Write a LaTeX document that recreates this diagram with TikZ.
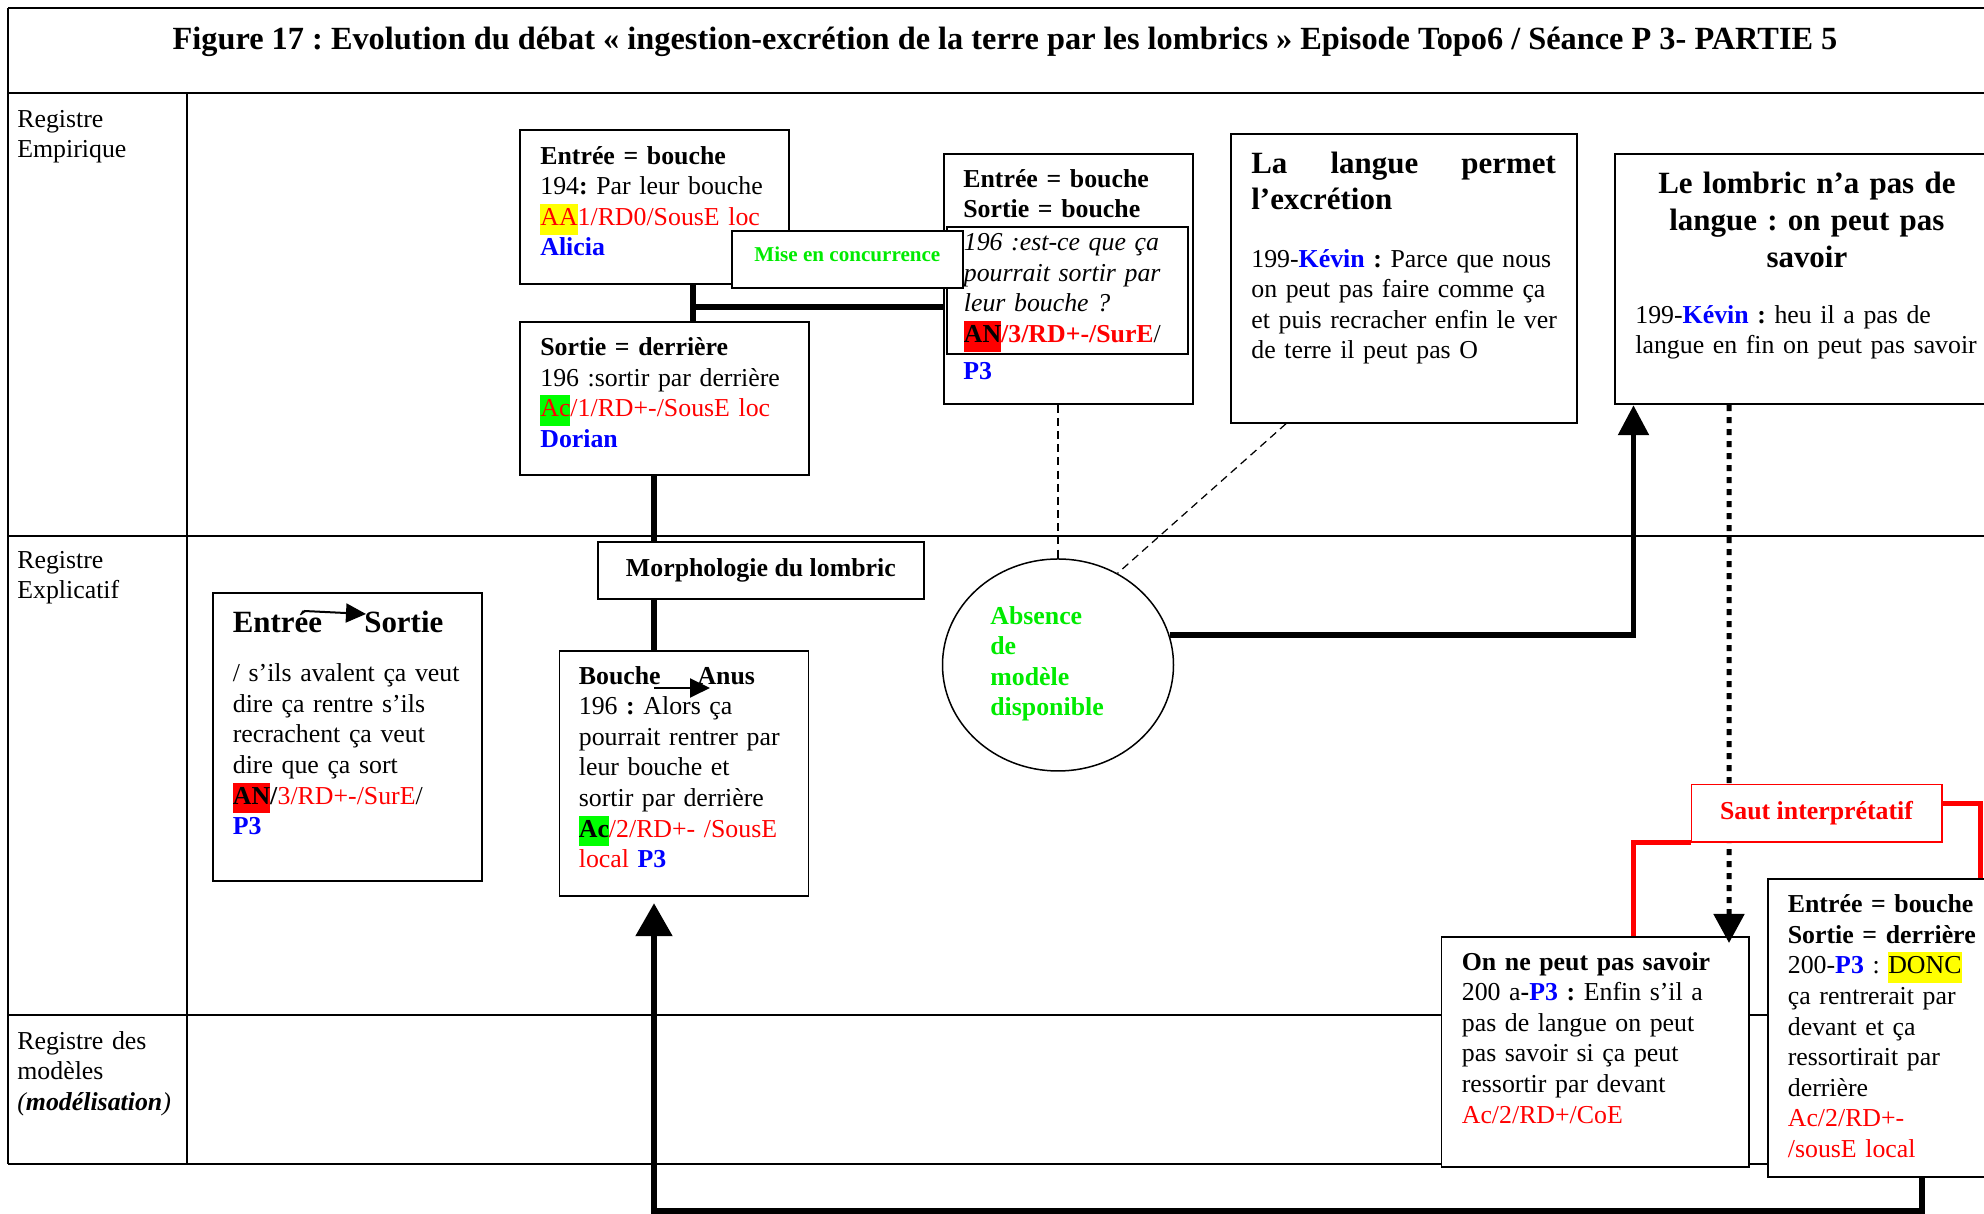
\documentclass[tikz,border=0pt]{standalone}
\usepackage{fontspec}
\setmainfont{Liberation Serif}
\usetikzlibrary{positioning,arrows.meta,shapes.geometric}

\definecolor{txtred}{RGB}{255,0,0}
\definecolor{txtblue}{RGB}{0,0,255}
\definecolor{txtgreen}{RGB}{0,235,0}
\definecolor{hiyellow}{RGB}{255,255,0}
\definecolor{higreen}{RGB}{0,255,0}

\newcommand\bodysize{\fontsize{14.7}{17.4}\selectfont}
\newcommand\headsize{\fontsize{17.6}{20.8}\selectfont}
\newcommand\hilite[2]{{\setlength{\fboxsep}{0pt}\colorbox{#1}{\strut #2}}}
\frenchspacing

\begin{document}
\begin{tikzpicture}[
    rule/.style={line width=0.04cm},
    box/.style={draw, line width=0.035cm, fill=white, anchor=north west, inner sep=0pt},
    txt/.style={inner sep=0pt, anchor=north west, align=left, text width=#1,
                font=\bodysize, execute at begin node=\strut},
    txt/.default=6cm,
    head/.style={txt=#1, font=\headsize\bfseries},
    head/.default=6cm,
    link/.style={line width=0.11cm},
    dotlink/.style={line width=0.1cm, dash pattern=on 0.12cm off 0.12cm},
    redlink/.style={line width=0.1cm, draw=txtred},
    dashlink/.style={line width=0.025cm, dash pattern=on 4.5pt off 3pt},
    smallarrow/.style={line width=0.04cm, -{Triangle[length=0.4cm,width=0.38cm]}}
  ]
  \useasboundingbox (0,0) rectangle (39.68,24.28);
  \clip (0,0) rectangle (39.68,24.28);

  % Drawing the table
  \draw [rule] (0.16,24.11) -- (40.00,24.11);%
  \draw [rule] (0.16,22.42) -- (40.00,22.42);%
  \draw [rule] (0.16,13.56) -- (40.00,13.56);%
  \draw [rule] (0.16,3.98) -- (40.00,3.98);%
  \draw [rule] (0.16,0.99) -- (40.00,0.99);%
  \draw [rule] (0.16,24.11) -- (0.16,0.99);%
  \draw [rule] (3.74,22.42) -- (3.74,0.99);%

  % Marking title
  \node [font=\fontsize{18.4}{21}\selectfont\bfseries, anchor=base, inner sep=0pt] (title) at (20.10,23.29)
    {Figure 17 : Evolution du débat « ingestion-excrétion de la terre par les lombrics » Episode Topo6 / Séance P 3- PARTIE 5};

  % Marking row labels
  \node [txt=3.3cm] (reg-emp) at (0.34,22.17) {Registre\\Empirique};
  \node [txt=3.3cm] (reg-exp) at (0.34,13.35) {Registre\\Explicatif};
  \node [txt=3.3cm] (reg-mod) at (0.34,3.73) {Registre des\\modèles\\\textit{(\textbf{modélisation})}};

  % Drawing box Alicia
  \node [box, minimum width=5.38cm, minimum height=3.08cm] (alicia) at (10.38,21.70) {};
  \node [txt=5cm, below right=0.27cm and 0.42cm of alicia.north west] (alicia-t)
    {\textbf{Entrée = bouche}\\
     194\textbf{:} Par leur bouche\\
     \hilite{hiyellow}{\textcolor{txtred}{AA}}\textcolor{txtred}{1/RD0/SousE loc}\\
     \textcolor{txtblue}{\textbf{Alicia}}};

  % Drawing box Dorian
  \node [box, minimum width=5.78cm, minimum height=3.06cm] (dorian) at (10.38,17.86) {};
  \node [txt=5.2cm, below right=0.26cm and 0.42cm of dorian.north west] (dorian-t)
    {\textbf{Sortie = derrière}\\
     196 :sortir par derrière\\
     \hilite{higreen}{\textcolor{txtred}{Ac}}\textcolor{txtred}{/1/RD+-/SousE loc}\\
     \textcolor{txtblue}{\textbf{Dorian}}};

  % Drawing box P3 question
  \node [box, minimum width=4.98cm, minimum height=5.00cm] (p3q) at (18.86,21.22) {};
  \node [txt=4.4cm, below right=0.25cm and 0.40cm of p3q.north west] (p3q-t)
    {\textbf{Entrée = bouche}\\
     \textbf{Sortie = bouche}};
  \node [txt=4.14cm, draw, line width=0.035cm, inner xsep=0.34cm, inner ysep=0.05cm] (p3q-in) at (18.92,19.76)
    {\textit{196 :est-ce que ça}\\
     \textit{pourrait sortir par}\\
     \textit{leur bouche ?}\\
     \hilite{txtred}{\textbf{AN}}\textcolor{txtred}{\textbf{/3/RD+-/SurE}}/};
  \node [txt=2cm, below right=4.09cm and 0.40cm of p3q.north west] (p3q-p)
    {\textcolor{txtblue}{\textbf{P3}}};

  % Drawing box Mise en concurrence
  \node [box, minimum width=4.62cm, minimum height=1.14cm, text height=8pt, text depth=5.7pt,
         font=\fontsize{12}{14}\selectfont\bfseries, text=txtgreen] (concur) at (14.62,19.68) {Mise en concurrence};

  % Drawing box La langue permet
  \node [box, minimum width=6.92cm, minimum height=5.77cm] (langue) at (24.60,21.61) {};
  \node [head=6.09cm, below right=0.28cm and 0.42cm of langue.north west] (langue-h)
    {La\hfill langue\hfill permet\\
     l’excrétion};
  \node [txt=6.4cm, below right=2.24cm and 0.42cm of langue.north west] (langue-t)
    {199-\textcolor{txtblue}{\textbf{Kévin}} \textbf{:} Parce que nous\\
     on peut pas faire comme ça\\
     et puis recracher enfin le ver\\
     de terre il peut pas O};

  % Drawing box Le lombric n'a pas de langue
  \node [box, minimum width=7.68cm, minimum height=5.00cm] (nolangue) at (32.28,21.21) {};
  \node [head=7.2cm, align=center, anchor=north, below=0.29cm of nolangue.north] (nolangue-h)
    {Le lombric n’a pas de\\
     langue : on peut pas\\
     savoir};
  \node [txt=7cm, below right=2.96cm and 0.42cm of nolangue.north west] (nolangue-t)
    {199-\textcolor{txtblue}{\textbf{Kévin}} \textbf{:} heu il a pas de\\
     langue en fin on peut pas savoir};

  % Drawing box Morphologie du lombric
  \node [box, minimum width=6.52cm, minimum height=1.14cm, font=\bodysize\bfseries] (morph) at (11.94,13.45)
    {Morphologie du lombric};

  % Drawing box Entree Sortie
  \node [box, minimum width=5.38cm, minimum height=5.76cm] (entsor) at (4.24,12.44) {};
  \node [head=4.8cm, below right=0.30cm and 0.41cm of entsor.north west] (entsor-h)
    {Entrée\hspace{24pt}Sortie};
  \node [txt=4.8cm, below right=1.36cm and 0.41cm of entsor.north west] (entsor-t)
    {/ s’ils avalent ça veut\\
     dire ça rentre s’ils\\
     recrachent ça veut\\
     dire que ça sort\\
     \hilite{txtred}{\textbf{AN}}\textbf{/}\textcolor{txtred}{3/RD+-/SurE}/\\
     \textcolor{txtblue}{\textbf{P3}}};
  \draw [smallarrow] ([shift={(1.43,-0.08)}]entsor-h.north west) -- ([shift={(2.67,-0.14)}]entsor-h.north west);

  % Drawing box Bouche Anus
  \node [box, minimum width=4.98cm, minimum height=4.91cm] (anus) at (11.17,11.28) {};
  \node [txt=4.4cm, below right=0.25cm and 0.40cm of anus.north west] (anus-t)
    {\textbf{Bouche\hspace{21pt}Anus}\\
     196 \textbf{:} Alors ça\\
     pourrait rentrer par\\
     leur bouche et\\
     sortir par derrière\\
     \hilite{higreen}{\textbf{Ac}}\textcolor{txtred}{/2/RD+- /SousE}\\
     \textcolor{txtred}{local} \textcolor{txtblue}{\textbf{P3}}};
  \draw [smallarrow] ([shift={(1.51,-0.51)}]anus-t.north west) -- ([shift={(2.63,-0.51)}]anus-t.north west);

  % Drawing ellipse Absence de modele
  \node [draw, ellipse, line width=0.03cm, inner sep=0pt, minimum width=4.62cm, minimum height=4.24cm] (el) at (21.16,10.98) {};
  \node [txt=3cm, font=\bodysize\bfseries, text=txtgreen] (el-t) at ([shift={(-1.36,1.25)}]el.center)
    {Absence\\de\\modèle\\disponible};

  % Drawing box On ne peut pas savoir
  \node [box, minimum width=6.15cm, minimum height=4.60cm] (savoir) at (28.81,5.56) {};
  \node [txt=5.6cm, below right=0.25cm and 0.42cm of savoir.north west] (savoir-t)
    {\textbf{On ne peut pas savoir}\\
     200 a\textbf{-}\textcolor{txtblue}{\textbf{P3}} \textbf{:} Enfin s’il a\\
     pas de langue on peut\\
     pas savoir si ça peut\\
     ressortir par devant\\
     \textcolor{txtred}{Ac/2/RD+/CoE}};

  % Drawing box DONC
  \node [box, minimum width=6.16cm, minimum height=5.97cm] (donc) at (35.34,6.72) {};
  \node [txt=5.2cm, below right=0.26cm and 0.41cm of donc.north west] (donc-t)
    {\textbf{Entrée = bouche}\\
     \textbf{Sortie = derrière}\\
     200-\textcolor{txtblue}{\textbf{P3}} : \hilite{hiyellow}{DONC}\\
     ça rentrerait par\\
     devant et ça\\
     ressortirait par\\
     derrière\\
     \textcolor{txtred}{Ac/2/RD+-}\\
     \textcolor{txtred}{/sousE local}};

  % Drawing links Alicia Dorian P3
  \coordinate (join) at (13.86,18.14);
  \draw [link] (join |- alicia.south) -- (join |- dorian.north);%
  \draw [link] (join) -- (join -| p3q.west);%

  % Drawing spine Dorian Morphologie Bouche
  \coordinate (spine) at (13.08,0.06);
  \draw [link] (spine |- dorian.south) -- (spine |- morph.north);%
  \draw [link] (spine |- morph.south) -- (spine |- anus.north);%
  \draw [link, -{Triangle[length=0.66cm,width=0.72cm]}, shorten >=0.12cm]
    (donc.south) |- (spine) -- (spine |- anus.south);%

  % Drawing dashed lines to ellipse
  \draw [dashlink] (el.north |- p3q.south) -- (el.north);%
  \draw [dashlink] ([xshift=1.12cm]langue.south west) -- (el.57);%

  % Drawing link ellipse to Le lombric
  \draw [link, -{Triangle[length=0.6cm,width=0.6cm]}] (el.15) -| ([xshift=0.39cm]nolangue.south west);%

  % Drawing dotted arrow
  \draw [dotlink, -{Triangle[length=0.58cm,width=0.6cm]}]
    ([xshift=2.30cm]nolangue.south west) -- ([xshift=5.77cm,yshift=-0.14cm]savoir.north west);%

  % Drawing box Saut interpretatif
  \node [box, draw=txtred, line width=0.03cm, minimum width=5.01cm, minimum height=1.15cm,
         font=\bodysize\bfseries, text=txtred] (saut) at (33.81,8.60) {Saut interprétatif};
  \draw [redlink] (saut.south west) -| ([xshift=3.86cm]savoir.north west);%
  \draw [redlink] ([yshift=0.19cm]saut.east) -| ([xshift=4.26cm]donc.north west);%
\end{tikzpicture}
\end{document}
